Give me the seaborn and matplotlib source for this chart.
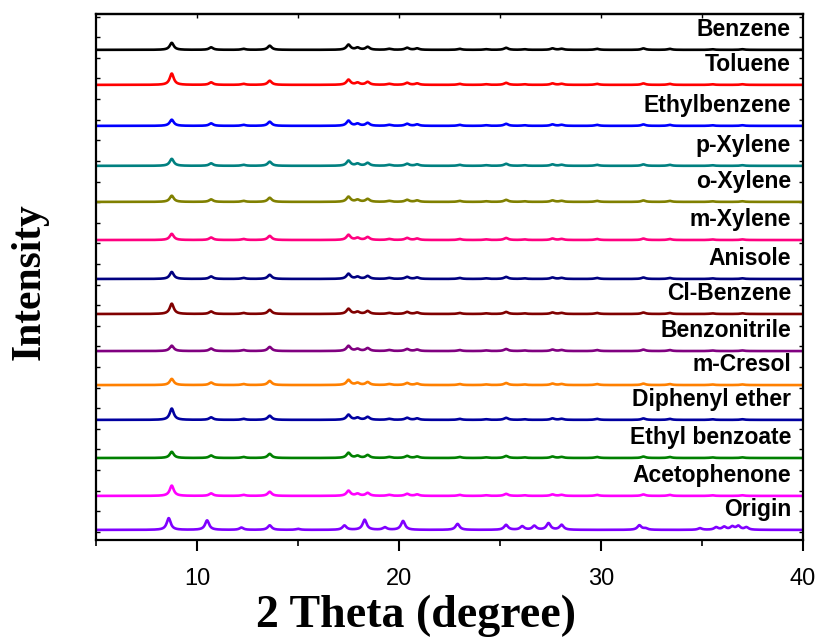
import numpy as np
import pandas as pd
import seaborn as sns
import matplotlib
matplotlib.use("Agg")
import matplotlib.pyplot as plt
from matplotlib.ticker import MultipleLocator, NullFormatter

# ---------------- data ----------------
samples = ["Benzene", "Toluene", "Ethylbenzene", "p-Xylene", "o-Xylene", "m-Xylene",
           "Anisole", "Cl-Benzene", "Benzonitrile", "m-Cresol", "Diphenyl ether",
           "Ethyl benzoate", "Acetophenone", "Origin"]
colors = ["#000000", "#FF0000", "#0000FF", "#008080", "#808000", "#FF0080",
          "#000080", "#800000", "#800080", "#FF8000", "#0000A0",
          "#008000", "#FF00FF", "#8000FF"]
offsets = [23.39, 21.69, 19.70, 17.76, 16.01, 14.16, 12.27, 10.57, 8.77, 7.12,
           5.43, 3.58, 1.74, 0.09]
# height of the strongest (~8.75 deg) reflection of each solvated sample
main_peak = [0.34, 0.55, 0.30, 0.34, 0.30, 0.30, 0.34, 0.50, 0.26, 0.30, 0.55, 0.30, 0.50]

# reflections shared by the solvated samples (2theta, height)
solv_pos = [10.7, 12.3, 13.6, 17.5, 17.95, 18.45, 19.5, 20.4, 20.9, 23.0, 24.3,
            25.3, 26.2, 27.6, 28.05, 29.8, 32.1, 33.4, 35.5, 37.0]
solv_h = [0.12, 0.05, 0.20, 0.25, 0.10, 0.14, 0.05, 0.10, 0.07, 0.05, 0.03,
          0.10, 0.03, 0.07, 0.05, 0.05, 0.07, 0.05, 0.03, 0.03]
solv_main_pos = 8.75

# reflections of the origin sample
orig_pos = [8.6, 10.5, 12.2, 13.6, 15.0, 17.3, 18.3, 19.3, 20.2, 22.9, 25.3, 26.1,
            26.7, 27.4, 28.05, 31.9, 32.2, 34.9, 35.7, 36.1, 36.5, 36.8, 37.2]
orig_h = [0.57, 0.46, 0.11, 0.22, 0.05, 0.21, 0.49, 0.12, 0.43, 0.29, 0.24, 0.17,
          0.19, 0.32, 0.24, 0.22, 0.07, 0.08, 0.12, 0.14, 0.15, 0.18, 0.12]

x_ticks = [10, 20, 30, 40]

# ---------------- build profiles ----------------
theta = np.arange(5.0, 40.001, 0.02)


def profile(pos, h, w=0.12):
    y = np.zeros_like(theta)
    for p, a in zip(pos, h):
        y += a / (1 + ((theta - p) / w) ** 2)
    return y


frames = []
for i, name in enumerate(samples):
    if name == "Origin":
        y = profile(orig_pos, orig_h)
    else:
        y = profile([solv_main_pos] + solv_pos, [main_peak[i]] + solv_h)
    frames.append(pd.DataFrame({"theta": theta, "I": y + offsets[i], "sample": name}))
df = pd.concat(frames, ignore_index=True)

# ---------------- plot ----------------
sns.set_style("ticks")
plt.rcParams["font.family"] = ["Liberation Sans", "DejaVu Sans"]
plt.rcParams["text.color"] = "black"
plt.rcParams["xtick.color"] = "black"
plt.rcParams["ytick.color"] = "black"
plt.rcParams["xtick.labelcolor"] = "black"

fig = plt.figure(figsize=(8.22, 6.39), dpi=100)
ax = fig.add_axes([96 / 822, 1 - 540 / 639, (803 - 96) / 822, (540 - 14) / 639])

sns.lineplot(data=df, x="theta", y="I", hue="sample", hue_order=samples,
             palette=dict(zip(samples, colors)), linewidth=1.9, legend=False,
             ax=ax, estimator=None, sort=False)

ax.set_xlabel("")
ax.set_ylabel("")
ax.set_xlim(5, 40)
ax.set_ylim(-0.4, 25.13)
ax.set_xticks(x_ticks)
ax.xaxis.set_minor_locator(MultipleLocator(5))
ax.yaxis.set_major_locator(MultipleLocator(1))
ax.yaxis.set_major_formatter(NullFormatter())

for s in ax.spines.values():
    s.set_linewidth(1.6)
    s.set_color("black")

ax.tick_params(axis="x", which="major", direction="out", length=8, width=1.5,
               labelsize=17, pad=12, top=False, colors="black")
ax.tick_params(axis="x", which="minor", direction="out", length=4, width=1.2,
               bottom=True, top=False)
ax.tick_params(axis="y", which="major", direction="in", length=3, width=1.0,
               left=True, right=True)

# small inward ticks along the top edge every 5 degrees
ax_top = ax.secondary_xaxis("top")
ax_top.set_xticks([10, 15, 20, 25, 30, 35])
ax_top.tick_params(direction="in", length=3, width=1.0, labeltop=False)
ax_top.spines["top"].set_linewidth(1.6)

for i, name in enumerate(samples):
    ax.text(39.4, offsets[i] + 1.0, name, ha="right", va="center",
            fontsize=16.5, fontweight="bold", color="black")

fig.text(0.506, 0.036, "2 Theta (degree)", ha="center", va="center", color="black",
         fontsize=33, fontweight="bold", family=["Liberation Serif", "DejaVu Serif"])
fig.text(0.036, 0.559, "Intensity", ha="center", va="center", rotation=90, color="black",
         fontsize=30, fontweight="bold", family=["Liberation Serif", "DejaVu Serif"])

fig.savefig("out.png", dpi=100)
